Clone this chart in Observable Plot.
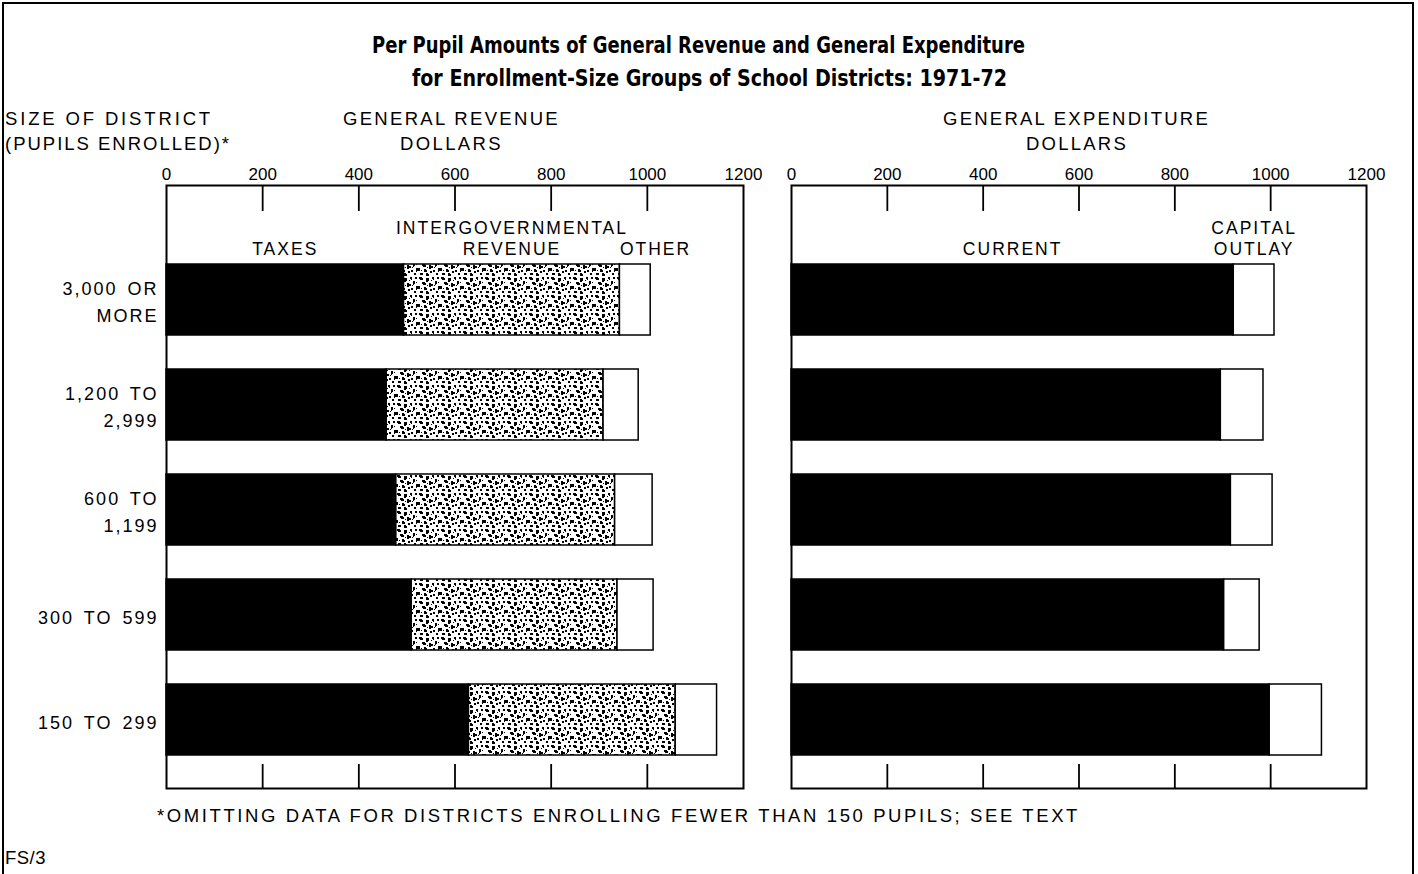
<!DOCTYPE html>
<html><head><meta charset="utf-8">
<script src="https://cdn.jsdelivr.net/npm/d3@7"></script>
<script src="https://cdn.jsdelivr.net/npm/@observablehq/plot@0.6"></script>
<style>
body{margin:0;background:#fff;}
#page{position:relative;width:1418px;height:874px;overflow:hidden;background:#fff;font-family:"Liberation Sans",Arial,Helvetica,sans-serif;color:#000;}
#border{position:absolute;left:2px;top:2px;width:1408px;height:900px;border:2px solid #000;border-bottom:none;}
.t{position:absolute;white-space:nowrap;display:inline-block;}
.title{font-family:"Liberation Sans Narrow","Arial Narrow","DejaVu Sans Condensed","DejaVu Sans",sans-serif;font-weight:bold;font-stretch:condensed;font-size:23px;line-height:30px;transform-origin:0 50%;}
.hdr{font-size:18.5px;line-height:24px;}
#left,#right{position:absolute;top:150px;}
#left{left:0;width:765px;}
#right{left:765px;width:653px;}
#left svg,#right svg{font-family:"Liberation Sans",Arial,Helvetica,sans-serif;font-size:18px;color:#000;background:transparent;overflow:visible;max-width:none;}
#left svg text,#right svg text{letter-spacing:2px;word-spacing:3px;}
g[aria-label="x-axis tick label"] text{letter-spacing:0 !important;word-spacing:0 !important;}
</style>
</head><body>
<svg width="0" height="0" style="position:absolute">
  <defs>
    <pattern id="speckle" width="22" height="18" patternUnits="userSpaceOnUse">
      <rect width="22" height="18" fill="#fff"/>
      <path fill="#000" d="M1 1h3v1h1v2h-3v-1h-1z M8 2h3v3h-1v1h-2z M14 1h2v3h-1v-1h-1z M4 6h3v1h1v2h-3v-1h-1z M11 7h2v1h2v2h-2v1h-2z M0 10h2v3h-2z M6 11h2v1h1v2h-3z M15 12h2v2h-2z M17 5h2v3h-1v1h-1z M3 12h1v1h-1z M9 9h1v1h-1z M12 13h2v2h-2z M16 9h1v1h-1z M19 1h2v2h-2z M20 10h2v3h-1v1h-1z M2 15h3v2h-3z M8 15h2v1h1v2h-3z M18 15h2v2h-2z M13 4h1v1h-1z M20 6h1v1h-1z"/>
    </pattern>
  </defs>
</svg>
<div id="page">
  <div id="border"></div>
  <div class="t title" data-w="653" data-mode="scale" style="left:372px;top:30px">Per Pupil Amounts of General Revenue and General Expenditure</div>
  <div class="t title" data-w="595" data-mode="scale" style="left:412px;top:63px">for Enrollment-Size Groups of School Districts: 1971-72</div>
  <div class="t hdr" data-w="208" style="left:5px;top:107px">SIZE OF DISTRICT</div>
  <div class="t hdr" data-w="226" style="left:5px;top:132px">(PUPILS ENROLLED)*</div>
  <div class="t hdr" data-w="217" style="left:343px;top:107px">GENERAL REVENUE</div>
  <div class="t hdr" data-w="103" style="left:400px;top:132px">DOLLARS</div>
  <div class="t hdr" data-w="267" style="left:943px;top:107px">GENERAL EXPENDITURE</div>
  <div class="t hdr" data-w="102" style="left:1026px;top:132px">DOLLARS</div>
  <div id="left"></div>
  <div id="right"></div>
  <div class="t hdr" data-w="923" style="left:157px;top:804px">*OMITTING DATA FOR DISTRICTS ENROLLING FEWER THAN 150 PUPILS; SEE TEXT</div>
  <div class="t hdr" data-w="41" style="left:5px;top:846px">FS/3</div>
</div>
<script>
// ---- data ----
const categories = ["3,000 OR\nMORE", "1,200 TO\n2,999", "600 TO\n1,199", "300 TO 599", "150 TO 299"];
const revenueSeries = ["TAXES", "INTERGOVERNMENTAL\nREVENUE", "OTHER"];
const taxes = [494, 458, 478, 510, 629];
const intergovernmental = [449, 451, 455, 428, 430];
const otherRevenue = [64, 73, 78, 75, 86];
const expenditureSeries = ["CURRENT", "CAPITAL\nOUTLAY"];
const current = [923, 896, 917, 903, 998];
const capitalOutlay = [85, 89, 87, 74, 109];
const xTicks = [0, 200, 400, 600, 800, 1000, 1200];
const innerTicks = [200, 400, 600, 800, 1000];

// ---- tables ----
const revenueRows = categories.flatMap((c, i) => [
  {cat: c, series: revenueSeries[0], value: taxes[i]},
  {cat: c, series: revenueSeries[1], value: intergovernmental[i]},
  {cat: c, series: revenueSeries[2], value: otherRevenue[i]}
]);
const expenditureRows = categories.flatMap((c, i) => [
  {cat: c, series: expenditureSeries[0], value: current[i]},
  {cat: c, series: expenditureSeries[1], value: capitalOutlay[i]}
]);

const H = 650, MT = 35, MB = 12, FH = H - MT - MB;

function panel({rows, series, fills, centered, started, width, marginLeft, marginRight, showY}) {
  return Plot.plot({
    width, height: H, marginTop: MT, marginBottom: MB, marginLeft, marginRight,
    x: {domain: [0, 1200], label: null, axis: null},
    y: {domain: categories, label: null, axis: null, paddingInner: 0.327, paddingOuter: 0.303, insetTop: 46},
    color: {domain: series, range: fills},
    marks: [
      Plot.barX(rows, {y: "cat", x: "value", fill: "series", stroke: "#000", strokeWidth: 1.5}),
      Plot.frame({stroke: "#000", strokeWidth: 2}),
      Plot.tickX(innerTicks, {x: d => d, insetBottom: FH - 26, stroke: "#000", strokeWidth: 1.8}),
      Plot.tickX(innerTicks, {x: d => d, insetTop: FH - 24, stroke: "#000", strokeWidth: 1.8}),
      Plot.text(centered, {x: "x", y: () => categories[0], text: "text", textAnchor: "middle", lineAnchor: "bottom", lineHeight: 1.2, dy: -45, fontSize: 17.5}),
      Plot.text(started, {x: "x", y: () => categories[0], text: "text", textAnchor: "start", lineAnchor: "bottom", lineHeight: 1.2, dy: -45, fontSize: 17.5}),
      Plot.axisX({anchor: "top", ticks: xTicks, tickFormat: d => String(d), tickSize: 0, tickPadding: 6, fontSize: 17, label: null}),
      showY ? Plot.axisY({tickSize: 0, tickPadding: 8, fontSize: 18, lineHeight: 1.5, label: null}) : null
    ]
  });
}

const left = panel({
  rows: revenueRows, series: revenueSeries, fills: ["#000", "url(#speckle)", "#fff"],
  centered: [
    {text: revenueSeries[0], x: taxes[0] / 2},
    {text: revenueSeries[1], x: taxes[0] + intergovernmental[0] / 2}
  ],
  started: [{text: revenueSeries[2], x: taxes[0] + intergovernmental[0]}],
  width: 765, marginLeft: 166, marginRight: 22, showY: true
});
const right = panel({
  rows: expenditureRows, series: expenditureSeries, fills: ["#000", "#fff"],
  centered: [
    {text: expenditureSeries[0], x: current[0] / 2},
    {text: expenditureSeries[1], x: current[0] + capitalOutlay[0] / 2}
  ],
  started: [],
  width: 653, marginLeft: 26, marginRight: 52, showY: false
});
document.getElementById("left").appendChild(left);
document.getElementById("right").appendChild(right);

// fit HTML text lines to the widths they occupy in the reference
document.querySelectorAll("[data-w]").forEach(el => {
  const target = +el.dataset.w;
  const nat = el.getBoundingClientRect().width;
  if (el.dataset.mode === "scale") {
    el.style.transform = `scaleX(${target / nat})`;
  } else {
    const n = el.textContent.length;
    el.style.letterSpacing = ((target - nat) / n) + "px";
  }
});
</script>
</body></html>
